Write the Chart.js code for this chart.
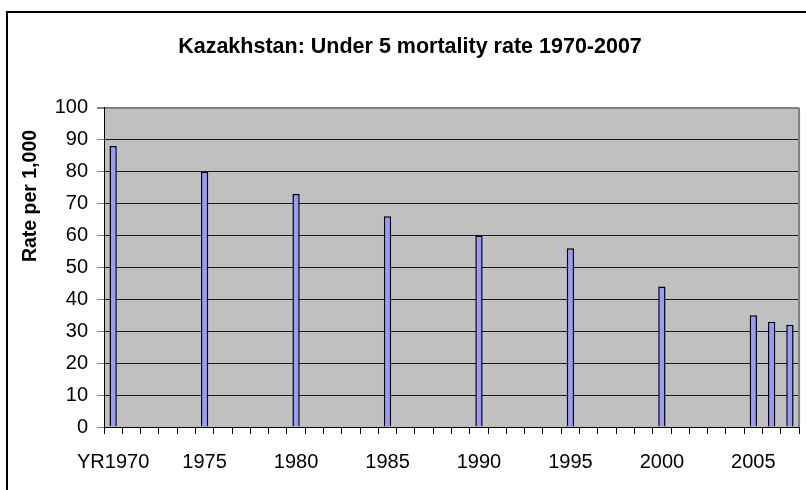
<!DOCTYPE html>
<html>
<head>
<meta charset="utf-8">
<script src="https://cdn.jsdelivr.net/npm/chart.js@4/dist/chart.umd.min.js"></script>
<style>
  html, body { margin: 0; padding: 0; background: #fff; overflow: hidden; }
  #wrap { position: relative; width: 806px; height: 490px; }
  #frame { position: absolute; left: 6px; top: 11px; width: 840px; height: 520px;
           border: 2px solid #000; pointer-events: none; }
</style>
</head>
<body>
<div id="wrap">
  <canvas id="mortality" width="806" height="490"></canvas>
  <div id="frame"></div>
</div>
<script>
var years = ['YR1970', '1971', '1972', '1973', '1974', '1975', '1976', '1977', '1978', '1979',
             '1980', '1981', '1982', '1983', '1984', '1985', '1986', '1987', '1988', '1989',
             '1990', '1991', '1992', '1993', '1994', '1995', '1996', '1997', '1998', '1999',
             '2000', '2001', '2002', '2003', '2004', '2005', '2006', '2007'];
// only some years have a reported figure
var rates = [88, null, null, null, null, 80, null, null, null, null,
             73, null, null, null, null, 66, null, null, null, null,
             60, null, null, null, null, 56, null, null, null, null,
             44, null, null, null, null, 35, 33, 32];
var yTicks = [0, 10, 20, 30, 40, 50, 60, 70, 80, 90, 100];
var yTitle = 'Rate per 1,000';

var fontFamily = '"Liberation Sans", Arial, sans-serif';

var plotBackground = {
  id: 'plotBackground',
  beforeDraw: function (chart) {
    var a = chart.chartArea, ctx = chart.ctx;
    ctx.save();
    ctx.fillStyle = '#c0c0c0';
    ctx.fillRect(a.left, a.top, a.right - a.left, a.bottom - a.top);
    ctx.restore();
  },
  beforeDatasetsDraw: function (chart) {
    var a = chart.chartArea, ctx = chart.ctx;
    ctx.save();
    ctx.strokeStyle = '#808080';
    ctx.lineWidth = 2;
    ctx.beginPath();
    ctx.moveTo(a.right, a.top);
    ctx.lineTo(a.right, a.bottom);
    ctx.stroke();
    ctx.restore();
  }
};

// the axis title sits above the middle of the value axis
var axisTitle = {
  id: 'axisTitle',
  afterDraw: function (chart) {
    var ctx = chart.ctx;
    ctx.save();
    ctx.translate(31, 196);
    ctx.rotate(-Math.PI / 2);
    ctx.font = 'bold 19.5px ' + fontFamily;
    ctx.fillStyle = '#000';
    ctx.textAlign = 'center';
    ctx.textBaseline = 'middle';
    ctx.fillText(yTitle, 0, 0);
    ctx.restore();
  }
};

var ctx = document.getElementById('mortality').getContext('2d');
var chart = new Chart(ctx, {
  type: 'bar',
  data: {
    labels: years,
    datasets: [{
      label: 'Under 5 mortality rate',
      data: rates,
      backgroundColor: '#9999ff',
      borderColor: '#000',
      borderWidth: 1.5,
      barPercentage: 0.4,
      categoryPercentage: 1
    }]
  },
  options: {
    responsive: false,
    animation: false,
    layout: { padding: { left: 20, right: 6, top: 0, bottom: 0 } },
    plugins: {
      legend: { display: false },
      tooltip: { enabled: false },
      title: {
        display: true,
        text: 'Kazakhstan: Under 5 mortality rate 1970-2007',
        color: '#000',
        font: { family: fontFamily, size: 21.5, weight: 'bold', lineHeight: 1.2 },
        padding: { top: 34, bottom: 48 }
      }
    },
    scales: {
      x: {
        afterFit: function (scale) { scale.height = 63; },
        border: { color: '#000', width: 1 },
        grid: {
          offset: true,
          drawOnChartArea: false,
          tickLength: 7,
          tickColor: '#000'
        },
        ticks: {
          autoSkip: false,
          maxRotation: 0,
          minRotation: 0,
          padding: 16,
          color: '#000',
          font: { family: fontFamily, size: 20 },
          callback: function (value, index) {
            return index % 5 === 0 ? years[index] : '';
          }
        }
      },
      y: {
        min: 0,
        max: 100,
        afterFit: function (scale) { scale.width = 84; },
        afterBuildTicks: function (scale) {
          scale.ticks = yTicks.map(function (v) { return { value: v }; });
        },
        border: { color: '#000', width: 1 },
        grid: {
          color: function (c) {
            if (c.tick && c.tick.value === 100) return '#808080';
            return '#1a1a1a';
          },
          lineWidth: function (c) {
            return c.tick && c.tick.value === 100 ? 2 : 1;
          },
          tickLength: 7,
          tickColor: '#808080'
        },
        ticks: {
          padding: 9,
          color: '#000',
          font: { family: fontFamily, size: 20 }
        }
      }
    }
  },
  plugins: [plotBackground, axisTitle]
});
</script>
</body>
</html>
